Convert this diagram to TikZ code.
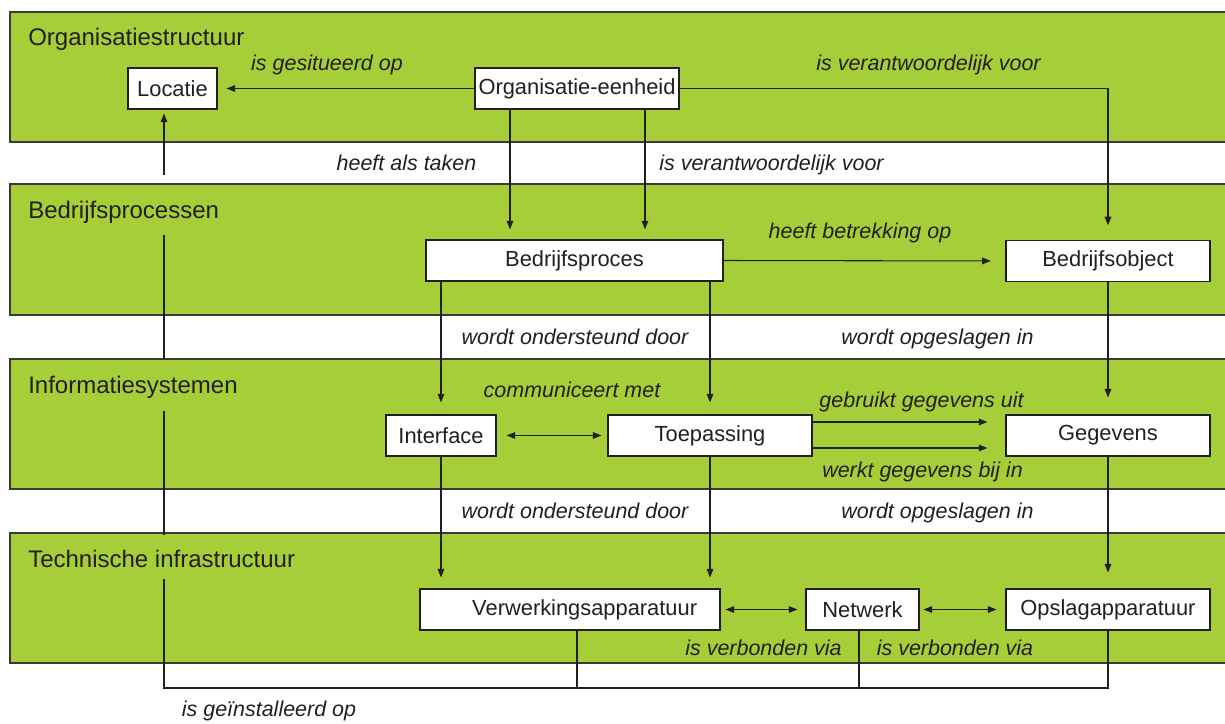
\documentclass[tikz,border=0pt]{standalone}
\usepackage{fontspec}
\setmainfont{Liberation Sans}
\usetikzlibrary{arrows.meta,calc}
\definecolor{band}{HTML}{A6CE39}
\definecolor{ink}{HTML}{231F20}
\definecolor{edge}{HTML}{3A3A3A}
\tikzset{
  bandbox/.style={fill=band, draw=edge, line width=0.8pt},
  box/.style={draw=ink, fill=white, line width=0.8pt, minimum height=30.75pt, inner sep=0pt,
              font=\fontsize{16.4}{19}\selectfont},
  lbl/.style={font=\fontsize{16.1}{19}\selectfont\itshape, anchor=base, inner sep=0pt},
  hdr/.style={font=\fontsize{18}{21}\selectfont, anchor=base west, inner sep=0pt},
  conn/.style={draw=ink, line width=0.8pt},
  tip/.tip={Triangle[length=6.5pt,width=5pt]},
  arr/.style={conn, -tip},
  darr/.style={conn, tip-tip},
}
\begin{document}
\begin{tikzpicture}[x=0.75pt, y=-0.75pt, text=ink]
\useasboundingbox (0,0) rectangle (1225,724);
% bands
\path[bandbox] (10,12) rectangle (1240,142);
\path[bandbox] (10,184) rectangle (1240,315);
\path[bandbox] (10,359) rectangle (1240,489);
\path[bandbox] (10,533) rectangle (1240,663);
% band headers
\node[hdr] (h1) at (28,46) {Organisatiestructuur};
\node[hdr] (h2) at (28,218) {Bedrijfsprocessen};
\node[hdr] (h3) at (28,393) {Informatiesystemen};
\node[hdr] (h4) at (28,567) {Technische infrastructuur};
% boxes
\node[box, minimum width=66.75pt] (loc) at (172.5,88.5) {Locatie};
\node[box, minimum width=153pt] (org) at (577,88.5) {Organisatie-eenheid};
\node[box, minimum width=222.75pt] (bp) at (574.5,260.5) {Bedrijfsproces};
\node[box, minimum width=153pt] (bo) at (1108,261) {Bedrijfsobject};
\node[box, minimum width=82.5pt] (iface) at (441,435.5) {Interface};
\node[box, minimum width=153pt] (toep) at (710,435.5) {Toepassing};
\node[box, minimum width=153pt] (geg) at (1108,435.5) {Gegevens};
\node[box, minimum width=225pt] (verw) at (570,609.5) {\hspace*{22pt}Verwerkingsapparatuur};
\node[box, minimum width=84.75pt] (net) at (862.5,609.5) {Netwerk};
\node[box, minimum width=153pt] (ops) at (1108,609.5) {Opslagapparatuur};
% connectors
\draw[arr, shorten >=6.75pt] (org.west) -- (loc.east);
\draw[arr, shorten >=7.5pt] (org.south -| 510,0) -- (bp.north -| 510,0);
\draw[arr, shorten >=7.5pt] (org.south -| 645,0) -- (bp.north -| 645,0);
\draw[arr, shorten >=11pt] (org.east) -| (bo.north);
\draw[arr, shorten >=11pt] (bp.east) -- (bo.west);
\draw[arr, shorten >=9pt] (bp.south -| iface.north) -- (iface.north);
\draw[arr, shorten >=9pt] (bp.south -| toep.north) -- (toep.north);
\draw[arr, shorten >=12.75pt] (bo.south) -- (geg.north);
\draw[darr, shorten <=7.5pt, shorten >=4.5pt] (iface.east) -- (toep.west);
\draw[arr, shorten >=13.5pt] (toep.east |- 0,422) -- (geg.west |- 0,422);
\draw[arr, shorten >=13.5pt] (toep.east |- 0,448) -- (geg.west |- 0,448);
\draw[arr, shorten >=8.25pt] (iface.south) -- (verw.north -| iface.south);
\draw[arr, shorten >=8.25pt] (toep.south) -- (verw.north -| toep.south);
\draw[arr, shorten >=12pt] (geg.south) -- (ops.north);
\draw[darr, shorten <=3.75pt, shorten >=6pt] (verw.east) -- (net.west);
\draw[darr, shorten <=3pt, shorten >=6.75pt] (net.east) -- (ops.west);
% installed-on line
\coordinate (c1) at (164,175);
\coordinate (c2) at (164,235);
\coordinate (c3) at (164,359);
\coordinate (c4) at (164,411);
\coordinate (c5) at (164,535);
\coordinate (c6) at (164,579);
\coordinate (c7) at (164,688);
\draw[arr, shorten >=3pt] (c1) -- (c1 |- loc.south);
\draw[conn] (c2) -- (c3);
\draw[conn] (c4) -- (c5);
\draw[conn] (c6) -- (c7) -- (ops.south |- c7) -- (ops.south);
\draw[conn] (verw.south -| 577,0) -- (577,688);
\draw[conn] (net.south -| 859,0) -- (859,688);
% labels
\node[lbl] (l1) at (327,71) {is gesitueerd op};
\node[lbl] (l2) at (928.5,70) {is verantwoordelijk voor};
\node[lbl] (l3) at (406.5,170) {heeft als taken};
\node[lbl] (l4) at (771.5,170) {is verantwoordelijk voor};
\node[lbl] (l5) at (860,238) {heeft betrekking op};
\node[lbl] (l6) at (575,344) {wordt ondersteund door};
\node[lbl] (l7) at (937.5,344) {wordt opgeslagen in};
\node[lbl] (l8) at (572,397) {communiceert met};
\node[lbl] (l9) at (921.5,407) {gebruikt gegevens uit};
\node[lbl] (l10) at (922.5,477) {werkt gegevens bij in};
\node[lbl] (l11) at (575,518) {wordt ondersteund door};
\node[lbl] (l12) at (937.5,518) {wordt opgeslagen in};
\node[lbl] (l13) at (763.5,655) {is verbonden via};
\node[lbl] (l14) at (955,655) {is verbonden via};
\node[lbl] (l15) at (269,716) {is geïnstalleerd op};
\end{tikzpicture}
\end{document}
